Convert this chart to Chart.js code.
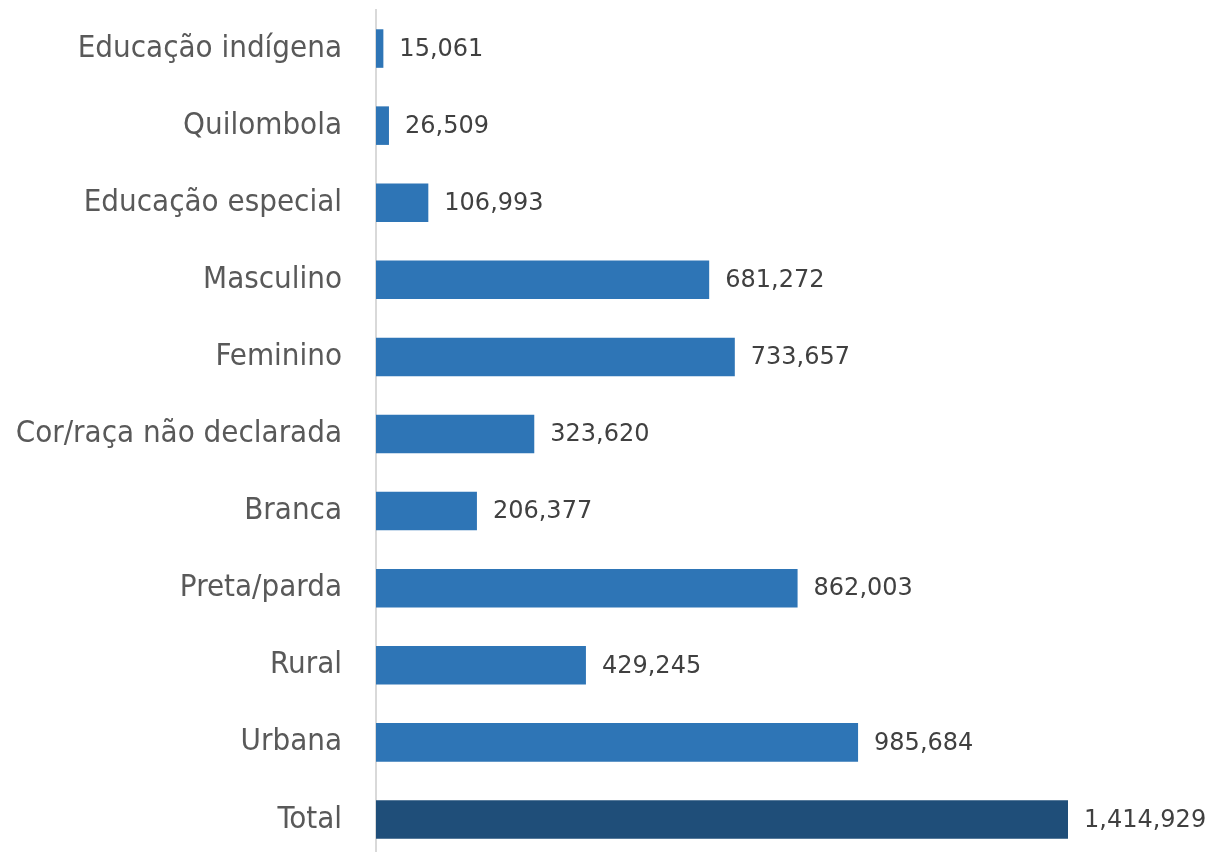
<!DOCTYPE html>
<html>
<head>
<meta charset="utf-8">
<script src="https://cdn.jsdelivr.net/npm/chart.js@4"></script>
<style>
  html, body { margin: 0; padding: 0; background: #fff; overflow: hidden; }
  #wrap { width: 1216px; height: 860px; position: relative; }
</style>
</head>
<body>
<div id="wrap"><canvas id="grafico"></canvas></div>
<script>
// categorias e valores (matrículas)
const categorias = [
    "Educação indígena", "Quilombola", "Educação especial", "Masculino", "Feminino",
    "Cor/raça não declarada", "Branca", "Preta/parda", "Rural", "Urbana", "Total"
];
const valores = [15061, 26509, 106993, 681272, 733657, 323620, 206377, 862003, 429245, 985684, 1414929];

const COR_BARRA = '#2E75B6';
const COR_TOTAL = '#1F4E79';

const cores = categorias.map(c => c === "Total" ? COR_TOTAL : COR_BARRA);

// rótulos de valor ao lado das barras
const rotulosValor = {
    id: 'rotulosValor',
    afterDatasetsDraw(chart) {
        const ctx = chart.ctx;
        const meta = chart.getDatasetMeta(0);
        ctx.save();
        ctx.font = '24px "DejaVu Sans", Verdana, sans-serif';
        ctx.fillStyle = '#404040';
        ctx.textAlign = 'left';
        ctx.textBaseline = 'middle';
        meta.data.forEach((bar, i) => {
            ctx.fillText(valores[i].toLocaleString('en-US'), bar.x + 16, bar.y + 1);
        });
        ctx.restore();
    }
};

new Chart(document.getElementById('grafico'), {
    type: 'bar',
    data: {
        labels: categorias,
        datasets: [{
            data: valores,
            backgroundColor: cores,
            borderWidth: 0,
            categoryPercentage: 1,
            barPercentage: 0.5
        }]
    },
    options: {
        indexAxis: 'y',
        responsive: true,
        maintainAspectRatio: false,
        animation: false,
        layout: { padding: { top: 10, right: 148, bottom: 2, left: 0 } },
        plugins: {
            legend: { display: false },
            tooltip: { enabled: false }
        },
        scales: {
            x: {
                display: false,
                min: 0,
                max: 1414929
            },
            y: {
                afterFit: (scale) => {
                    scale.width = 376;
                    scale.paddingTop = 0;
                    scale.paddingBottom = 0;
                },
                grid: { display: false, drawTicks: false },
                border: { display: true, color: '#d9d9d9', width: 2 },
                ticks: {
                    padding: 34,
                    color: '#595959',
                    font: { family: '"Liberation Sans Narrow", "Arial Narrow", "DejaVu Sans Condensed", sans-serif', size: 31 }
                }
            }
        }
    },
    plugins: [rotulosValor]
});
</script>
</body>
</html>
